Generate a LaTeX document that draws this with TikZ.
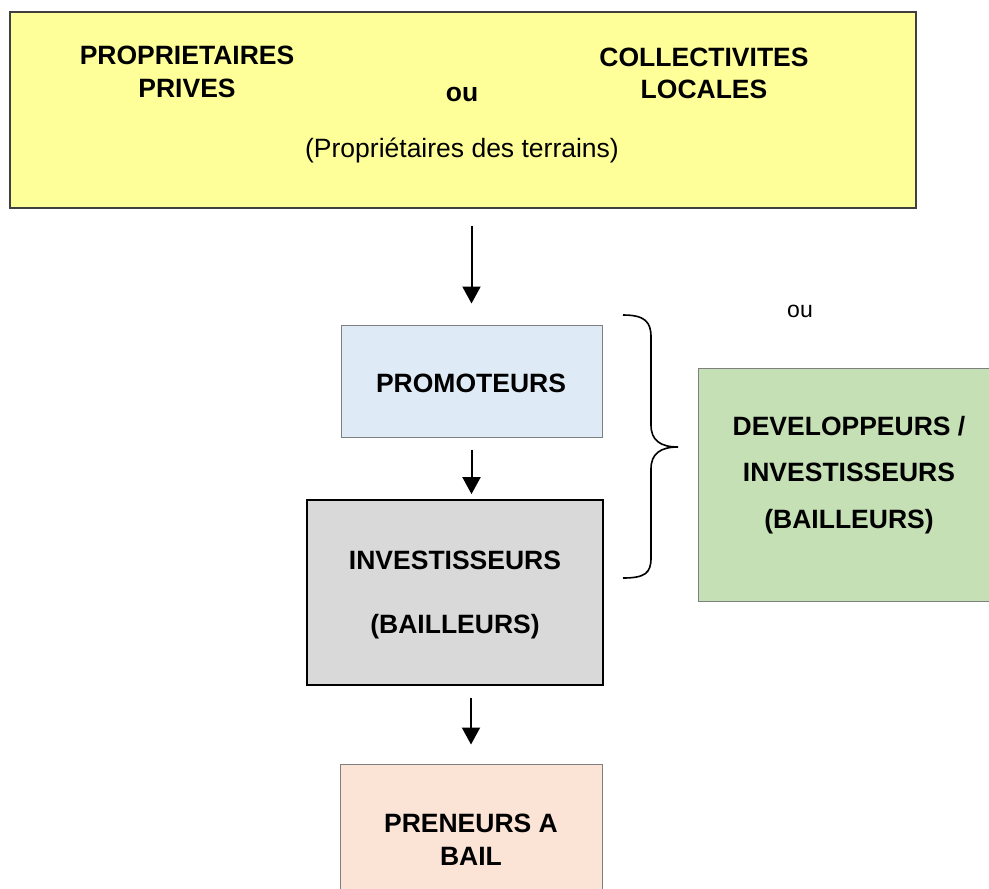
\documentclass[tikz,border=0pt]{standalone}
\usepackage{fontspec}
\setmainfont{Liberation Sans}
\usetikzlibrary{arrows.meta}
\definecolor{cyellow}{HTML}{FFFF99}
\definecolor{cblue}{HTML}{DEEBF7}
\definecolor{cgray}{HTML}{D9D9D9}
\definecolor{cpeach}{HTML}{FBE3D6}
\definecolor{cgreen}{HTML}{C5E0B4}
\definecolor{cborder}{HTML}{7F7F7F}
\tikzset{
  box/.style={draw=cborder, line width=1pt, rectangle, inner sep=0pt},
  lbl/.style={inner sep=0pt, anchor=base, font=\fontsize{26.5}{30}\selectfont\bfseries},
  rlbl/.style={inner sep=0pt, anchor=base, font=\fontsize{26.5}{30}\selectfont},
  arr/.style={line width=2pt, -{Triangle[width=18pt,length=17pt]}},
}
\begin{document}
\begin{tikzpicture}[x=1pt,y=-1pt]
\useasboundingbox (0,0) rectangle (989,889);
\clip (0,0) rectangle (989,889);
% boxes
\node[box, draw=black!75, line width=1.6pt, fill=cyellow, minimum width=906pt, minimum height=196pt] (yel) at (463,110) {};
\node[box, fill=cblue, minimum width=261pt, minimum height=112pt] (prom) at (471.5,381) {};
\node[box, draw=black, line width=1.8pt, fill=cgray, minimum width=296pt, minimum height=185pt] (inv) at (455,592.5) {};
\node[box, fill=cpeach, minimum width=262pt, minimum height=156pt] (pren) at (471,842) {};
\node[box, fill=cgreen, minimum width=312pt, minimum height=233pt] (dev) at (854,484.5) {};
% texts
\node[lbl] (t1) at (187,64) {PROPRIETAIRES};
\node[lbl] (t2) at (187,97) {PRIVES};
\node[lbl] (t3) at (462,101) {ou};
\node[lbl] (t4) at (704,66) {COLLECTIVITES};
\node[lbl] (t5) at (704,98) {LOCALES};
\node[rlbl] (t6) at (462,157) {(Propriétaires des terrains)};
\node[rlbl, font=\fontsize{23}{27}\selectfont] (t7) at (800,317) {ou};
\node[lbl] (t8) at (471,392) {PROMOTEURS};
\node[lbl] (t9) at (455,569) {INVESTISSEURS};
\node[lbl] (t10) at (455,633) {(BAILLEURS)};
\node[lbl] (t11) at (849,435) {DEVELOPPEURS /};
\node[lbl] (t12) at (849,481) {INVESTISSEURS};
\node[lbl] (t13) at (849,528) {(BAILLEURS)};
\node[lbl] (t14) at (471,832) {PRENEURS A};
\node[lbl] (t15) at (471,865) {BAIL};
% arrows
\draw[arr, shorten <=17pt, shorten >=21pt] (yel.south -| prom.north) -- (prom.north);
\draw[arr, shorten <=12pt, shorten >=5pt] (prom.south) -- (prom.south |- inv.north);
\draw[arr, shorten <=12pt, shorten >=19pt] (inv.south -| pren.north) -- (pren.north);
% brace
\draw[line width=1.6pt] (623,315) .. controls (645,315) and (651,322) .. (651,337)
  -- (651,425) .. controls (651,440) and (660,447) .. (678,447)
  .. controls (660,447) and (651,454) .. (651,469)
  -- (651,558) .. controls (651,573) and (645,578) .. (623,578);
\end{tikzpicture}
\end{document}
